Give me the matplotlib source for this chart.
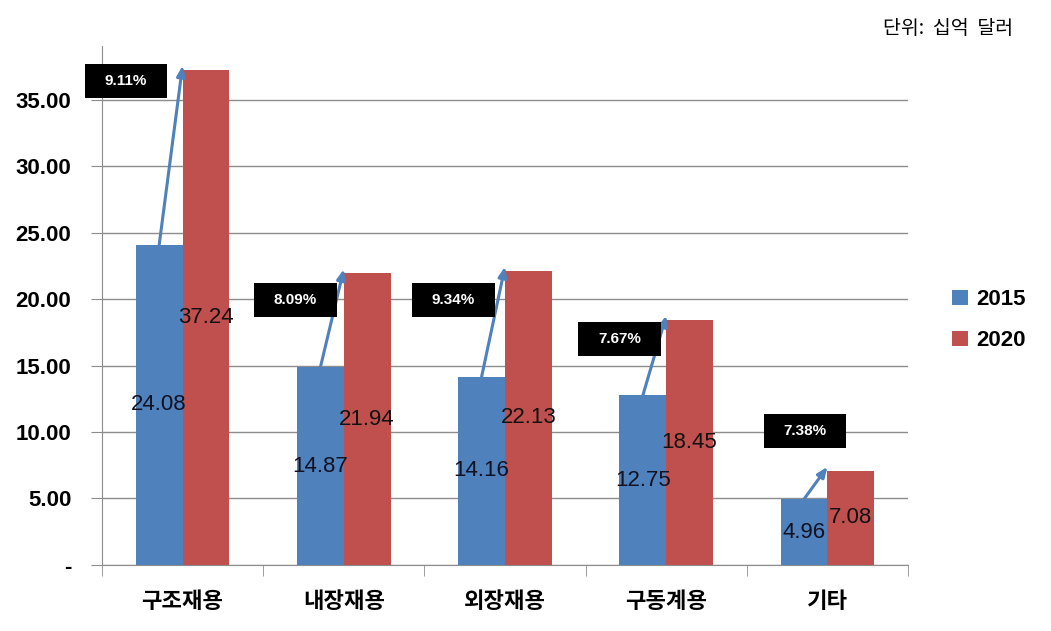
import matplotlib.pyplot as plt
from matplotlib.patches import Rectangle
import numpy as np

categories = ['구조재용', '내장재용', '외장재용', '구동계용', '기타']
v2015 = [24.08, 14.87, 14.16, 12.75, 4.96]
v2020 = [37.24, 21.94, 22.13, 18.45, 7.08]
growth = ['9.11%', '8.09%', '9.34%', '7.67%', '7.38%']
yticks = [0, 5, 10, 15, 20, 25, 30, 35]
ytick_labels = ['-', '5.00', '10.00', '15.00', '20.00', '25.00', '30.00', '35.00']

# where the growth boxes sit (x offset from category centre, y in data units)
box_dx = [-0.35, -0.30, -0.32, -0.29, -0.14]
box_y = [36.4, 19.9, 19.9, 17.0, 10.1]

blue = '#4F81BD'
red = '#C0504D'
grid_c = '#8C8C8C'

plt.rcParams['font.family'] = ['Liberation Sans', 'Noto Sans CJK KR', 'DejaVu Sans']

fig = plt.figure(figsize=(10.51, 6.31), dpi=100)
ax = fig.add_axes([0.097, 0.1046, 0.767, 0.822])

x = np.arange(len(categories))
w = 0.29
ax.bar(x - w / 2, v2015, w, color=blue, label='2015', zorder=3)
ax.bar(x + w / 2, v2020, w, color=red, label='2020', zorder=3)

for i in range(len(categories)):
    ax.text(x[i] - w / 2, v2015[i] / 2, f'{v2015[i]:.2f}', ha='center', va='center',
            fontsize=16, color='#111122', zorder=5)
    ax.text(x[i] + w / 2, v2020[i] / 2, f'{v2020[i]:.2f}', ha='center', va='center',
            fontsize=16, color='#111111', zorder=5)
    ax.annotate('', xy=(x[i], v2020[i] + 0.3), xytext=(x[i] - w / 2, v2015[i]),
                arrowprops=dict(arrowstyle='-|>,head_length=0.6,head_width=0.25',
                                color=blue, lw=2.2, shrinkA=0, shrinkB=0), zorder=6)
    bx = x[i] + box_dx[i]
    ax.add_patch(Rectangle((bx - 0.255, box_y[i] - 1.28), 0.51, 2.56,
                           facecolor='black', edgecolor='none', zorder=7, clip_on=False))
    ax.text(bx, box_y[i], growth[i], ha='center', va='center', color='white',
            fontsize=11, fontweight='bold', zorder=8)

ax.set_xlim(-0.5, len(categories) - 0.5)
ax.set_ylim(0, 39)
ax.set_yticks(yticks)
ax.set_yticklabels(ytick_labels, fontsize=16, fontweight='bold')
ax.yaxis.grid(True, color=grid_c, lw=1, zorder=0)
ax.tick_params(axis='y', length=8, color=grid_c, pad=14)

ax.set_xticks(x)
ax.set_xticklabels(categories, fontsize=16, fontweight='bold', family='Noto Sans CJK KR')
ax.set_xticks(np.arange(len(categories) + 1) - 0.5, minor=True)
ax.tick_params(axis='x', which='major', length=0, pad=18)
ax.tick_params(axis='x', which='minor', length=8, color=grid_c, direction='out')

for s in ['top', 'right']:
    ax.spines[s].set_visible(False)
for s in ['left', 'bottom']:
    ax.spines[s].set_color(grid_c)

ax.legend(loc='center left', bbox_to_anchor=(1.03, 0.472), frameon=False,
          handlelength=0.7, handleheight=0.7, handletextpad=0.4, labelspacing=0.9,
          prop={'size': 16, 'weight': 'bold'})

fig.text(0.964, 0.955, '단위:  십억  달러', ha='right', va='center', fontsize=14,
         family='Noto Sans CJK KR')

fig.savefig('out.png', dpi=100)
